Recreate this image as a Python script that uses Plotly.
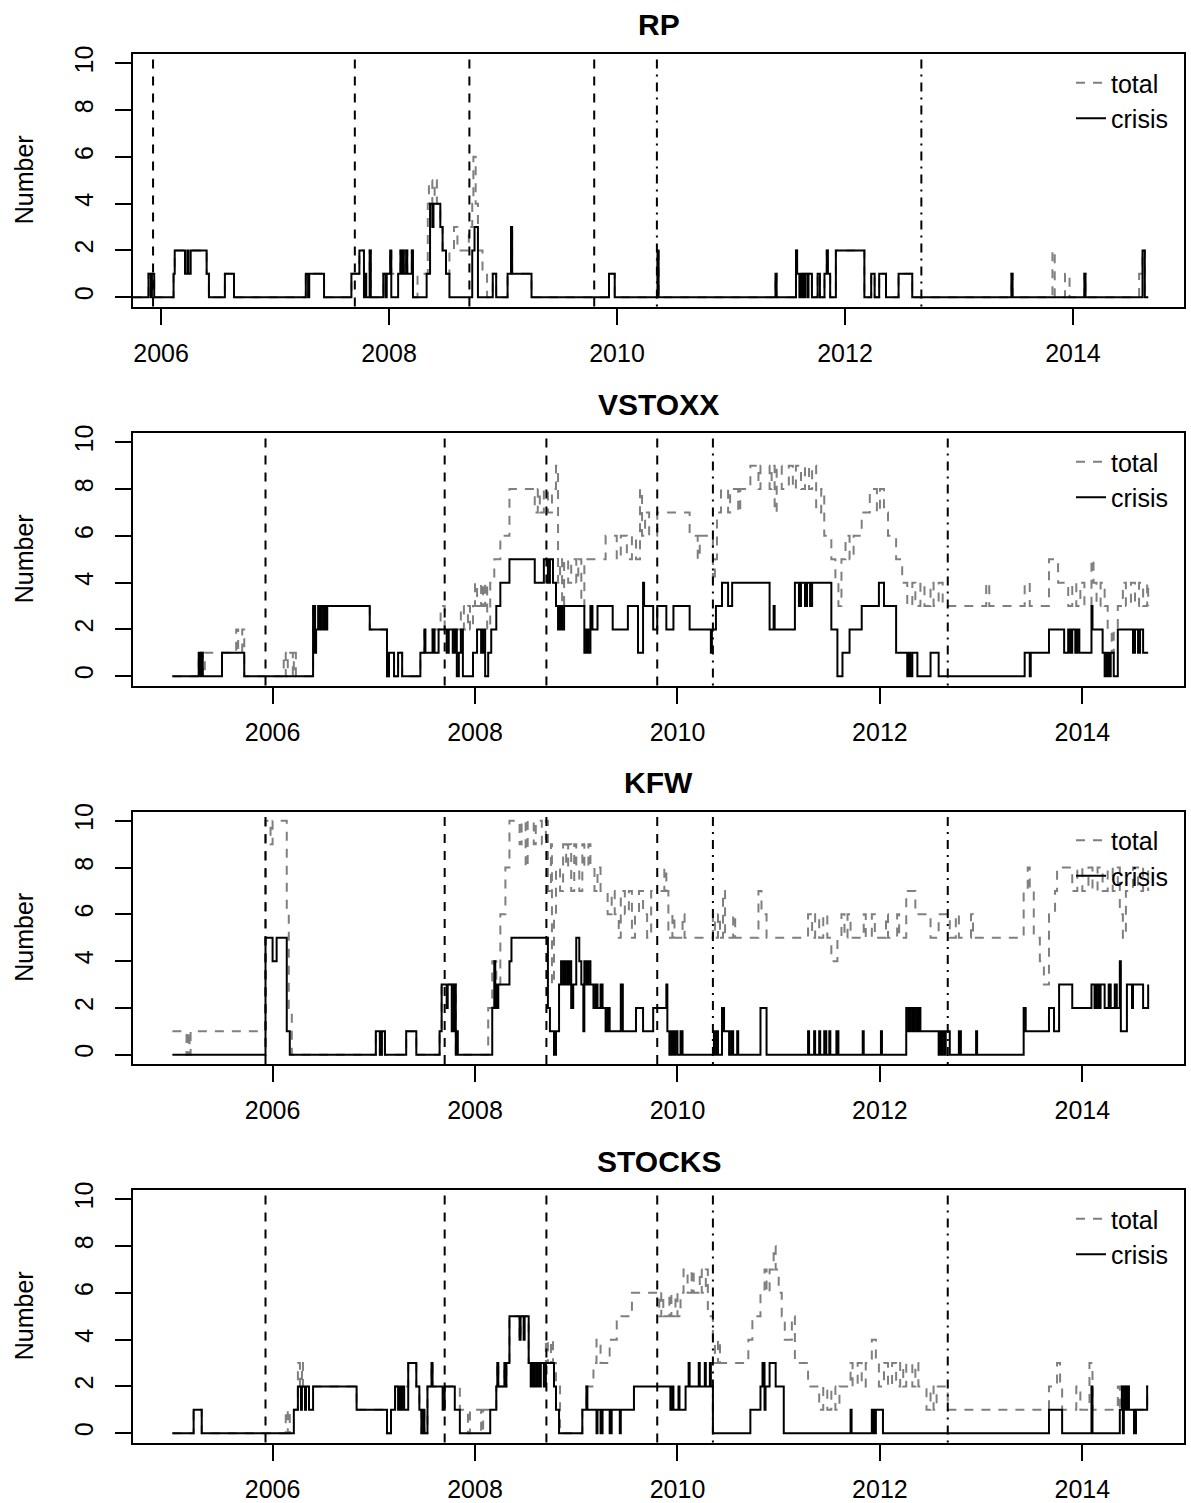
import plotly.graph_objects as go

FONT = "Liberation Sans, Arial, Helvetica, sans-serif"
W, H = 1191, 1503

panel_names = ["RP", "VSTOXX", "KFW", "STOCKS"]
event_dashed = [2005.93, 2007.70, 2008.705, 2009.80]
event_dashdot = [2010.35, 2012.67]
x_ticks = [2006, 2008, 2010, 2012, 2014]
y_ticks = [0, 2, 4, 6, 8, 10]

# ---------------- RP ----------------
rp_crisis_t = [2005.75, 2005.89, 2005.91, 2005.92, 2005.94, 2006.11, 2006.12, 2006.21, 2006.23, 2006.24,
               2006.26, 2006.40, 2006.42, 2006.56, 2006.64, 2007.27, 2007.29, 2007.30, 2007.43, 2007.67,
               2007.74, 2007.78, 2007.79, 2007.80, 2007.83, 2007.84, 2007.95, 2007.97, 2007.98, 2008.01,
               2008.02, 2008.08, 2008.10, 2008.11, 2008.12, 2008.13, 2008.15, 2008.16, 2008.20, 2008.21,
               2008.33, 2008.36, 2008.38, 2008.39, 2008.45, 2008.47, 2008.50, 2008.53, 2008.73, 2008.75,
               2008.78, 2008.91, 2008.94, 2009.04, 2009.07, 2009.08, 2009.25, 2009.93, 2009.98, 2010.355,
               2010.365, 2011.39, 2011.40, 2011.57, 2011.58, 2011.60, 2011.61, 2011.62, 2011.63, 2011.64,
               2011.65, 2011.67, 2011.68, 2011.71, 2011.76, 2011.78, 2011.82, 2011.84, 2011.85, 2011.87,
               2011.92, 2012.17, 2012.23, 2012.26, 2012.30, 2012.36, 2012.47, 2012.59, 2013.46, 2013.47,
               2014.10, 2014.11, 2014.61, 2014.63, 2014.66]
rp_crisis_v = [0, 1, 0, 1, 0, 1, 2, 1, 2, 1,
               2, 1, 0, 1, 0, 1, 0, 1, 0, 1,
               2, 0, 1, 0, 2, 0, 1, 0, 1, 2,
               0, 1, 2, 1, 2, 1, 2, 1, 2, 0,
               1, 4, 3, 4, 3, 2, 1, 0, 2, 3,
               0, 1, 0, 1, 3, 1, 0, 1, 0, 2,
               0, 1, 0, 2, 1, 0, 1, 0, 1, 0,
               1, 0, 1, 0, 1, 0, 1, 2, 1, 0,
               2, 0, 1, 0, 1, 0, 1, 0, 1, 0,
               1, 0, 2, 0, 0]
rp_total_t = [2005.75, 2005.89, 2005.94, 2006.11, 2006.12, 2006.40, 2006.42, 2006.56, 2006.64, 2007.27,
              2007.43, 2007.67, 2007.74, 2007.78, 2007.83, 2007.84, 2007.95, 2008.01, 2008.02, 2008.10,
              2008.11, 2008.12, 2008.13, 2008.15, 2008.16, 2008.20, 2008.21, 2008.25, 2008.34, 2008.35,
              2008.38, 2008.40, 2008.42, 2008.45, 2008.47, 2008.50, 2008.53, 2008.57, 2008.60, 2008.66,
              2008.70, 2008.73, 2008.74, 2008.76, 2008.78, 2008.82, 2008.86, 2008.91, 2008.94, 2009.04,
              2009.07, 2009.08, 2009.25, 2009.93, 2009.98, 2010.355, 2010.365, 2011.39, 2011.40, 2011.57,
              2011.58, 2011.71, 2011.76, 2011.78, 2011.82, 2011.84, 2011.85, 2011.87, 2011.92, 2012.17,
              2012.23, 2012.26, 2012.30, 2012.36, 2012.47, 2012.59, 2013.46, 2013.47, 2013.82, 2013.84,
              2013.93, 2013.97, 2014.10, 2014.11, 2014.58, 2014.61, 2014.63, 2014.66]
rp_total_v = [0, 1, 0, 1, 2, 1, 0, 1, 0, 1,
              0, 1, 2, 1, 2, 0, 1, 2, 1, 2,
              1, 2, 1, 2, 1, 2, 0, 1, 4, 5,
              4, 5, 4, 3, 2, 1, 2, 3, 2, 2,
              3, 4, 6, 4, 2, 1, 0, 1, 0, 1,
              3, 1, 0, 1, 0, 2, 0, 1, 0, 2,
              1, 0, 1, 0, 1, 2, 1, 0, 2, 0,
              1, 0, 1, 0, 1, 0, 1, 0, 2, 0,
              1, 0, 1, 0, 1, 2, 0, 0]

# ---------------- VSTOXX ----------------
vs_crisis_t = [2005.01, 2005.27, 2005.28, 2005.29, 2005.31, 2005.50, 2005.72, 2006.40, 2006.42, 2006.43,
               2006.45, 2006.47, 2006.48, 2006.50, 2006.51, 2006.53, 2006.54, 2006.96, 2007.13, 2007.15,
               2007.20, 2007.24, 2007.28, 2007.46, 2007.50, 2007.51, 2007.58, 2007.60, 2007.64, 2007.72,
               2007.74, 2007.78, 2007.80, 2007.82, 2007.84, 2007.86, 2007.88, 2007.98, 2008.02, 2008.06,
               2008.08, 2008.10, 2008.13, 2008.16, 2008.21, 2008.25, 2008.34, 2008.59, 2008.68, 2008.72,
               2008.74, 2008.77, 2008.80, 2008.82, 2008.84, 2008.86, 2008.88, 2009.08, 2009.10, 2009.12,
               2009.14, 2009.16, 2009.21, 2009.36, 2009.51, 2009.61, 2009.66, 2009.67, 2009.76, 2009.80,
               2009.89, 2009.96, 2010.12, 2010.33, 2010.34, 2010.38, 2010.44, 2010.50, 2010.54, 2010.91,
               2010.95, 2010.96, 2011.16, 2011.20, 2011.22, 2011.26, 2011.28, 2011.31, 2011.33, 2011.52,
               2011.58, 2011.63, 2011.70, 2011.82, 2011.99, 2012.04, 2012.16, 2012.27, 2012.29, 2012.30,
               2012.32, 2012.37, 2012.50, 2012.58, 2013.43, 2013.48, 2013.49, 2013.67, 2013.82, 2013.86,
               2013.88, 2013.90, 2013.93, 2013.95, 2013.97, 2014.09, 2014.10, 2014.20, 2014.22, 2014.24,
               2014.26, 2014.28, 2014.31, 2014.35, 2014.50, 2014.52, 2014.55, 2014.57, 2014.60, 2014.65]
vs_crisis_v = [0, 1, 0, 1, 0, 1, 0, 3, 1, 2,
               3, 2, 3, 2, 3, 2, 3, 2, 0, 1,
               0, 1, 0, 1, 2, 1, 2, 1, 2, 1,
               2, 1, 2, 0, 1, 2, 0, 1, 2, 1,
               2, 0, 1, 2, 3, 4, 5, 4, 5, 4,
               5, 4, 3, 2, 3, 2, 3, 1, 2, 1,
               3, 2, 3, 2, 3, 1, 4, 3, 2, 3,
               2, 3, 2, 1, 2, 3, 4, 3, 4, 2,
               3, 2, 4, 3, 4, 3, 4, 3, 4, 2,
               0, 1, 2, 3, 4, 3, 1, 0, 1, 0,
               1, 0, 1, 0, 1, 0, 1, 2, 1, 2,
               1, 2, 1, 2, 1, 3, 2, 1, 0, 1,
               0, 1, 0, 2, 1, 2, 1, 2, 1, 1]
vs_total_t = [2005.01, 2005.27, 2005.31, 2005.33, 2005.64, 2005.66, 2005.70, 2005.72, 2006.11, 2006.13,
              2006.15, 2006.20, 2006.21, 2006.23, 2006.40, 2006.96, 2007.13, 2007.15, 2007.20, 2007.24,
              2007.28, 2007.46, 2007.50, 2007.66, 2007.70, 2007.86, 2007.89, 2007.93, 2007.95, 2007.98,
              2008.00, 2008.02, 2008.06, 2008.08, 2008.10, 2008.12, 2008.15, 2008.19, 2008.25, 2008.34,
              2008.59, 2008.62, 2008.64, 2008.68, 2008.72, 2008.76, 2008.80, 2008.82, 2008.84, 2008.86,
              2008.88, 2008.92, 2008.95, 2009.00, 2009.02, 2009.05, 2009.08, 2009.29, 2009.40, 2009.44,
              2009.50, 2009.55, 2009.59, 2009.63, 2009.65, 2009.68, 2009.72, 2009.80, 2010.12, 2010.20,
              2010.22, 2010.35, 2010.37, 2010.39, 2010.43, 2010.50, 2010.52, 2010.60, 2010.62, 2010.72,
              2010.80, 2010.82, 2010.91, 2010.93, 2010.96, 2010.98, 2011.03, 2011.10, 2011.14, 2011.17,
              2011.22, 2011.26, 2011.30, 2011.33, 2011.37, 2011.42, 2011.45, 2011.52, 2011.56, 2011.59,
              2011.62, 2011.66, 2011.70, 2011.74, 2011.82, 2011.90, 2011.97, 2012.00, 2012.04, 2012.08,
              2012.16, 2012.22, 2012.27, 2012.32, 2012.35, 2012.40, 2012.44, 2012.50, 2012.53, 2012.58,
              2012.62, 2013.05, 2013.08, 2013.43, 2013.48, 2013.67, 2013.76, 2013.86, 2013.90, 2013.94,
              2013.98, 2014.02, 2014.09, 2014.11, 2014.14, 2014.18, 2014.22, 2014.25, 2014.29, 2014.31,
              2014.35, 2014.40, 2014.43, 2014.48, 2014.52, 2014.56, 2014.60, 2014.64, 2014.65]
vs_total_v = [0, 1, 0, 1, 2, 1, 2, 0, 1, 0,
              1, 0, 1, 0, 3, 2, 0, 1, 0, 1,
              0, 1, 2, 3, 2, 3, 2, 3, 2, 3,
              4, 3, 4, 3, 4, 2, 4, 5, 6, 8,
              7, 8, 7, 8, 7, 8, 9, 4, 5, 3,
              5, 4, 5, 4, 5, 3, 5, 6, 5, 6,
              5, 6, 5, 8, 6, 7, 6, 7, 6, 5,
              6, 4, 5, 7, 8, 7, 8, 7, 8, 9,
              8, 9, 8, 9, 7, 9, 8, 9, 8, 9,
              8, 9, 8, 9, 7, 8, 6, 5, 4, 3,
              5, 6, 5, 6, 7, 8, 7, 8, 7, 6,
              5, 4, 3, 4, 3, 4, 3, 4, 3, 4,
              3, 4, 3, 4, 3, 5, 4, 3, 4, 3,
              4, 3, 5, 4, 3, 4, 3, 2, 1, 2,
              3, 4, 3, 4, 3, 4, 3, 4, 3]

# ---------------- KFW ----------------
kfw_crisis_t = [2005.01, 2005.93, 2006.00, 2006.04, 2006.14, 2006.17, 2007.02, 2007.06, 2007.08, 2007.11,
                2007.32, 2007.42, 2007.65, 2007.67, 2007.72, 2007.73, 2007.77, 2007.79, 2007.81, 2007.82,
                2007.83, 2008.17, 2008.19, 2008.20, 2008.21, 2008.23, 2008.34, 2008.36, 2008.72, 2008.74,
                2008.78, 2008.80, 2008.83, 2008.85, 2008.87, 2008.89, 2008.91, 2008.93, 2008.95, 2008.97,
                2009.00, 2009.03, 2009.05, 2009.07, 2009.08, 2009.10, 2009.12, 2009.14, 2009.17, 2009.19,
                2009.21, 2009.24, 2009.26, 2009.29, 2009.31, 2009.33, 2009.44, 2009.46, 2009.59, 2009.66,
                2009.76, 2009.89, 2009.90, 2009.92, 2009.94, 2009.96, 2009.98, 2010.00, 2010.03, 2010.05,
                2010.36, 2010.37, 2010.39, 2010.40, 2010.44, 2010.46, 2010.51, 2010.53, 2010.55, 2010.59,
                2010.60, 2010.82, 2010.88, 2011.29, 2011.30, 2011.35, 2011.36, 2011.40, 2011.41, 2011.45,
                2011.47, 2011.50, 2011.51, 2011.57, 2011.59, 2011.83, 2011.84, 2012.01, 2012.02, 2012.26,
                2012.28, 2012.30, 2012.32, 2012.34, 2012.36, 2012.38, 2012.40, 2012.58, 2012.59, 2012.61,
                2012.62, 2012.64, 2012.65, 2012.69, 2012.78, 2012.80, 2012.95, 2012.96, 2013.42, 2013.44,
                2013.67, 2013.72, 2013.77, 2013.90, 2014.09, 2014.12, 2014.14, 2014.16, 2014.18, 2014.22,
                2014.26, 2014.28, 2014.32, 2014.34, 2014.37, 2014.38, 2014.44, 2014.49, 2014.50, 2014.60,
                2014.65]
kfw_crisis_v = [0, 5, 4, 5, 1, 0, 1, 0, 1, 0,
                1, 0, 1, 3, 2, 3, 1, 3, 0, 1,
                0, 2, 4, 3, 2, 3, 4, 5, 2, 1,
                0, 1, 3, 4, 3, 4, 3, 4, 2, 3,
                5, 4, 3, 1, 4, 3, 4, 3, 2, 3,
                2, 3, 2, 1, 2, 1, 3, 1, 2, 1,
                2, 3, 1, 0, 1, 0, 1, 0, 1, 0,
                1, 0, 1, 0, 2, 1, 0, 1, 0, 1,
                0, 2, 0, 1, 0, 1, 0, 1, 0, 1,
                0, 1, 0, 1, 0, 1, 0, 1, 0, 2,
                1, 2, 1, 2, 1, 2, 1, 0, 1, 0,
                1, 0, 1, 0, 1, 0, 1, 0, 2, 1,
                2, 1, 3, 2, 3, 2, 3, 2, 3, 2,
                3, 2, 3, 2, 4, 1, 3, 2, 3, 2,
                3]
kfw_total_t = [2005.01, 2005.15, 2005.17, 2005.18, 2005.19, 2005.93, 2005.98, 2006.00, 2006.14, 2006.16,
               2006.19, 2007.02, 2007.06, 2007.08, 2007.11, 2007.32, 2007.42, 2007.65, 2007.67, 2007.81,
               2008.13, 2008.17, 2008.21, 2008.25, 2008.30, 2008.34, 2008.44, 2008.46, 2008.50, 2008.52,
               2008.58, 2008.60, 2008.66, 2008.70, 2008.72, 2008.75, 2008.76, 2008.78, 2008.80, 2008.84,
               2008.87, 2008.90, 2008.92, 2008.95, 2008.98, 2009.00, 2009.03, 2009.06, 2009.08, 2009.12,
               2009.14, 2009.18, 2009.21, 2009.24, 2009.31, 2009.35, 2009.38, 2009.42, 2009.44, 2009.48,
               2009.52, 2009.55, 2009.58, 2009.62, 2009.66, 2009.70, 2009.74, 2009.87, 2009.89, 2009.91,
               2009.95, 2009.97, 2010.05, 2010.07, 2010.35, 2010.37, 2010.40, 2010.42, 2010.45, 2010.47,
               2010.55, 2010.57, 2010.80, 2010.83, 2010.88, 2011.29, 2011.33, 2011.36, 2011.40, 2011.44,
               2011.48, 2011.52, 2011.58, 2011.62, 2011.65, 2011.68, 2011.71, 2011.84, 2011.86, 2011.92,
               2011.95, 2012.06, 2012.08, 2012.17, 2012.19, 2012.26, 2012.35, 2012.50, 2012.58, 2012.69,
               2012.75, 2012.78, 2012.90, 2012.92, 2013.42, 2013.46, 2013.48, 2013.52, 2013.58, 2013.62,
               2013.67, 2013.73, 2013.75, 2013.90, 2013.95, 2014.00, 2014.06, 2014.10, 2014.15, 2014.20,
               2014.25, 2014.30, 2014.35, 2014.37, 2014.40, 2014.43, 2014.50, 2014.55, 2014.60, 2014.65]
kfw_total_v = [1, 0, 1, 0, 1, 10, 9, 10, 6, 2,
               0, 1, 0, 1, 0, 1, 0, 1, 3, 0,
               2, 4, 3, 6, 8, 10, 9, 10, 8, 10,
               9, 10, 9, 10, 7, 9, 3, 6, 8, 7,
               9, 8, 9, 7, 9, 8, 7, 9, 8, 9,
               8, 7, 8, 7, 6, 7, 6, 5, 7, 6,
               7, 5, 6, 7, 6, 5, 7, 8, 7, 5,
               6, 5, 6, 5, 6, 5, 6, 5, 7, 5,
               6, 5, 7, 6, 5, 6, 5, 6, 5, 6,
               5, 4, 5, 6, 5, 6, 5, 6, 5, 6,
               5, 6, 5, 6, 5, 7, 6, 5, 6, 5,
               6, 5, 6, 5, 7, 8, 7, 5, 4, 3,
               6, 7, 8, 7, 8, 7, 8, 7, 8, 7,
               8, 7, 8, 6, 5, 7, 8, 7, 8, 7]

# ---------------- STOCKS ----------------
st_crisis_t = [2005.01, 2005.22, 2005.30, 2006.21, 2006.25, 2006.28, 2006.29, 2006.32, 2006.33, 2006.36,
               2006.40, 2006.83, 2007.13, 2007.17, 2007.21, 2007.24, 2007.25, 2007.27, 2007.28, 2007.30,
               2007.34, 2007.42, 2007.45, 2007.47, 2007.49, 2007.50, 2007.53, 2007.57, 2007.58, 2007.68,
               2007.70, 2007.80, 2007.85, 2008.15, 2008.21, 2008.22, 2008.23, 2008.29, 2008.30, 2008.31,
               2008.34, 2008.44, 2008.45, 2008.48, 2008.49, 2008.53, 2008.55, 2008.56, 2008.58, 2008.59,
               2008.61, 2008.62, 2008.64, 2008.65, 2008.68, 2008.70, 2008.78, 2008.80, 2008.83, 2009.06,
               2009.10, 2009.11, 2009.20, 2009.21, 2009.24, 2009.26, 2009.33, 2009.35, 2009.43, 2009.44,
               2009.57, 2009.93, 2009.95, 2009.96, 2010.01, 2010.02, 2010.08, 2010.11, 2010.12, 2010.21,
               2010.22, 2010.27, 2010.28, 2010.32, 2010.33, 2010.35, 2010.72, 2010.82, 2010.84, 2010.86,
               2010.87, 2010.91, 2010.97, 2011.05, 2011.71, 2011.72, 2011.92, 2011.93, 2011.94, 2011.95,
               2011.96, 2012.03, 2013.67, 2013.80, 2014.09, 2014.10, 2014.37, 2014.39, 2014.40, 2014.41,
               2014.42, 2014.43, 2014.44, 2014.46, 2014.51, 2014.53, 2014.64, 2014.65]
st_crisis_v = [0, 1, 0, 1, 2, 1, 2, 1, 2, 1,
               2, 1, 0, 1, 2, 1, 2, 1, 2, 1,
               3, 2, 1, 0, 1, 0, 2, 3, 2, 1,
               2, 1, 0, 1, 2, 3, 2, 3, 2, 3,
               5, 4, 5, 4, 5, 3, 2, 3, 2, 3,
               2, 3, 2, 3, 2, 3, 2, 1, 0, 1,
               2, 1, 0, 1, 0, 1, 0, 1, 0, 1,
               2, 1, 2, 1, 2, 1, 2, 3, 2, 3,
               2, 3, 2, 3, 2, 0, 1, 2, 3, 1,
               2, 3, 2, 0, 1, 0, 1, 0, 1, 0,
               1, 0, 1, 0, 2, 0, 1, 2, 0, 1,
               2, 1, 2, 1, 0, 1, 2, 2]
st_total_t = [2005.01, 2005.22, 2005.30, 2006.13, 2006.15, 2006.17, 2006.25, 2006.27, 2006.29, 2006.30,
              2006.83, 2007.13, 2007.17, 2007.21, 2007.34, 2007.42, 2007.45, 2007.47, 2007.49, 2007.50,
              2007.53, 2007.57, 2007.58, 2007.85, 2007.93, 2007.95, 2008.06, 2008.08, 2008.21, 2008.22,
              2008.23, 2008.29, 2008.30, 2008.31, 2008.34, 2008.44, 2008.45, 2008.53, 2008.70, 2008.72,
              2008.75, 2008.77, 2008.80, 2008.84, 2009.06, 2009.10, 2009.17, 2009.20, 2009.24, 2009.33,
              2009.40, 2009.55, 2009.82, 2009.84, 2009.86, 2009.92, 2009.94, 2009.98, 2010.00, 2010.03,
              2010.06, 2010.10, 2010.14, 2010.16, 2010.22, 2010.24, 2010.28, 2010.30, 2010.35, 2010.37,
              2010.40, 2010.42, 2010.50, 2010.70, 2010.74, 2010.82, 2010.86, 2010.88, 2010.91, 2010.95,
              2010.97, 2011.00, 2011.03, 2011.06, 2011.13, 2011.16, 2011.29, 2011.40, 2011.44, 2011.48,
              2011.52, 2011.56, 2011.60, 2011.71, 2011.73, 2011.78, 2011.82, 2011.86, 2011.92, 2011.96,
              2011.99, 2012.04, 2012.08, 2012.12, 2012.16, 2012.20, 2012.23, 2012.26, 2012.32, 2012.35,
              2012.38, 2012.46, 2012.50, 2012.53, 2012.56, 2012.67, 2013.67, 2013.75, 2013.78, 2013.80,
              2013.94, 2013.98, 2014.07, 2014.10, 2014.35, 2014.37, 2014.39, 2014.40, 2014.42, 2014.46,
              2014.64, 2014.65]
st_total_v = [0, 1, 0, 1, 0, 1, 3, 2, 3, 2,
              1, 0, 1, 2, 3, 2, 1, 0, 1, 0,
              2, 3, 2, 1, 0, 1, 0, 1, 2, 3,
              2, 3, 2, 3, 5, 4, 5, 3, 4, 3,
              4, 3, 2, 0, 1, 2, 3, 4, 3, 4,
              5, 6, 5, 6, 5, 6, 5, 6, 5, 6,
              7, 6, 7, 6, 7, 6, 7, 5, 4, 3,
              4, 3, 3, 4, 5, 6, 7, 6, 7, 8,
              7, 6, 5, 4, 5, 3, 2, 1, 2, 1,
              2, 1, 2, 3, 2, 3, 2, 3, 4, 3,
              2, 3, 2, 3, 2, 3, 2, 3, 2, 3,
              2, 1, 2, 1, 2, 1, 2, 3, 2, 1,
              2, 1, 3, 1, 2, 1, 2, 1, 2, 1,
              2, 2]

series = [
    (rp_total_t, rp_total_v, rp_crisis_t, rp_crisis_v),
    (vs_total_t, vs_total_v, vs_crisis_t, vs_crisis_v),
    (kfw_total_t, kfw_total_v, kfw_crisis_t, kfw_crisis_v),
    (st_total_t, st_total_v, st_crisis_t, st_crisis_v),
]

# ---------------- layout geometry (pixels) ----------------
box_left, box_right = 133, 1184
box_tops = [54, 433, 811.5, 1190]
box_h = 252.5
x_ranges = [[2005.754, 2014.974], [2004.621, 2015.004], [2004.621, 2015.004], [2004.621, 2015.004]]

fig = go.Figure()
layout = dict(
    width=W, height=H,
    margin=dict(l=0, r=0, t=0, b=0),
    paper_bgcolor="white", plot_bgcolor="white",
    font=dict(family=FONT, size=25, color="black"),
    showlegend=True,
)
annotations = []
shapes = []

for i, name in enumerate(panel_names):
    sfx = "" if i == 0 else str(i + 1)
    xa, ya = "x" + sfx, "y" + sfx
    lg = "legend" + sfx
    tt, tv, ct, cv = series[i]
    fig.add_trace(go.Scatter(x=tt, y=tv, mode="lines", name="total", line_shape="hv",
                             line=dict(color="#7f7f7f", width=2, dash="9px,8px"),
                             xaxis=xa, yaxis=ya, legend=lg, hoverinfo="skip"))
    fig.add_trace(go.Scatter(x=ct, y=cv, mode="lines", name="crisis", line_shape="hv",
                             line=dict(color="black", width=2),
                             xaxis=xa, yaxis=ya, legend=lg, hoverinfo="skip"))
    top = box_tops[i]
    y1 = 1 - top / H
    y0 = 1 - (top + box_h) / H
    layout["xaxis" + sfx] = dict(
        domain=[box_left / W, box_right / W], anchor=ya, range=x_ranges[i],
        tickmode="array", tickvals=x_ticks, ticktext=[str(t) for t in x_ticks],
        ticks="outside", ticklen=16, tickwidth=2, tickcolor="black",
        showline=True, linecolor="black", linewidth=2, mirror=True,
        showgrid=False, zeroline=False, automargin=False,
        tickfont=dict(family=FONT, size=25, color="black"), ticklabelstandoff=7,
    )
    layout["yaxis" + sfx] = dict(
        domain=[y0, y1], anchor=xa, range=[-0.4, 10.4],
        tickmode="array", tickvals=y_ticks, ticktext=[str(t) for t in y_ticks],
        ticks="outside", ticklen=16, tickwidth=2, tickcolor="black", tickangle=-90,
        showline=True, linecolor="black", linewidth=2, mirror=True,
        showgrid=False, zeroline=False, automargin=False,
        tickfont=dict(family=FONT, size=25, color="black"), ticklabelstandoff=12,
    )
    legend_top = 1 - (top + 6) / H
    layout[lg] = dict(x=1071 / W, y=legend_top, xanchor="left", yanchor="top",
                      bgcolor="rgba(0,0,0,0)", borderwidth=0,
                      font=dict(family=FONT, size=25, color="black"),
                      tracegroupgap=0, itemclick=False)
    annotations.append(dict(text="<b>" + name + "</b>", x=(box_left + box_right) / 2 / W,
                            y=1 - (top - 29) / H, xref="paper", yref="paper",
                            xanchor="center", yanchor="middle", showarrow=False,
                            font=dict(family=FONT, size=30, color="black")))
    annotations.append(dict(text="Number", x=24 / W, y=1 - (top + box_h / 2) / H,
                            xref="paper", yref="paper", textangle=-90,
                            xanchor="center", yanchor="middle", showarrow=False,
                            font=dict(family=FONT, size=25, color="black")))
    for d in event_dashed:
        shapes.append(dict(type="line", xref=xa, yref=ya + " domain", x0=d, x1=d, y0=0, y1=1,
                           line=dict(color="black", width=2, dash="9px,8px")))
    for d in event_dashdot:
        shapes.append(dict(type="line", xref=xa, yref=ya + " domain", x0=d, x1=d, y0=0, y1=1,
                           line=dict(color="black", width=2, dash="2px,6px,9px,6px")))

layout["annotations"] = annotations
layout["shapes"] = shapes
fig.update_layout(**layout)
fig.write_html("out.html", config={"displayModeBar": False},
               post_script="document.body.style.margin='0';document.body.style.overflow='hidden';")
